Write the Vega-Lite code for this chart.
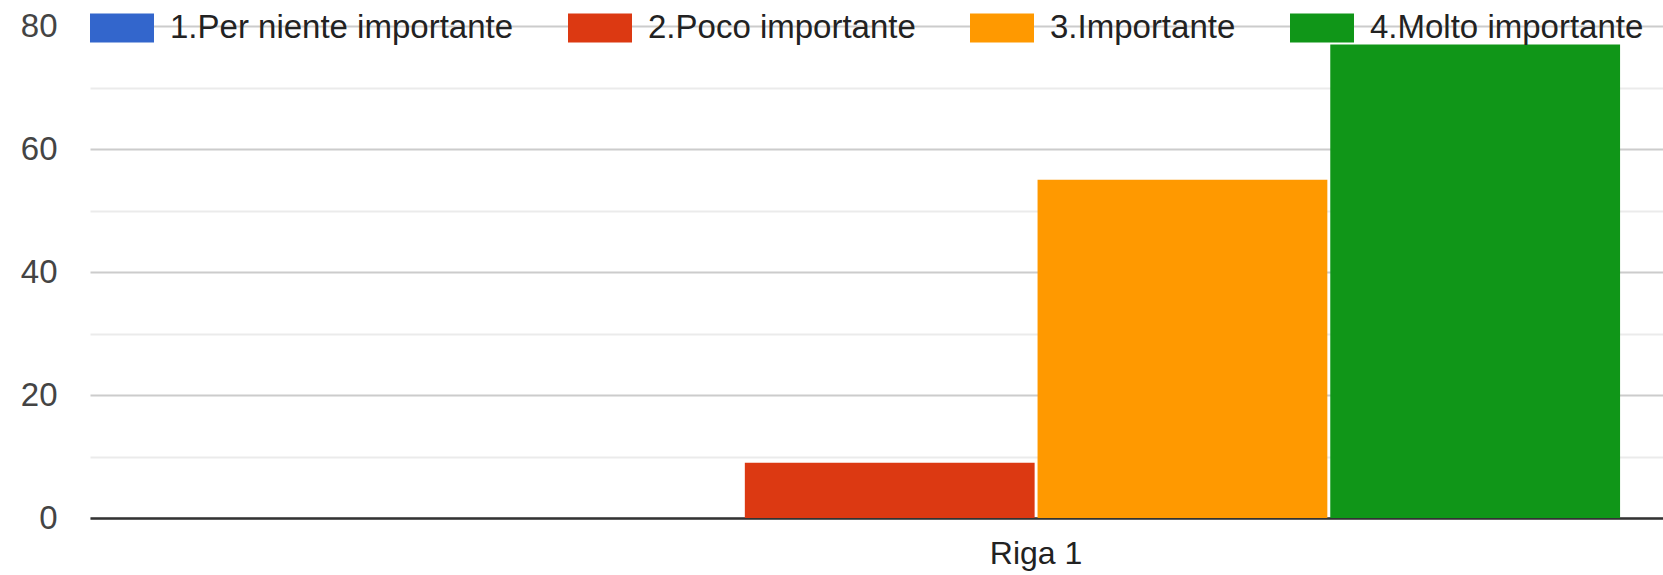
{
  "$schema": "https://vega.github.io/schema/vega-lite/v6.json",
  "width": 1573,
  "height": 492,
  "autosize": {"type": "none"},
  "padding": {"left": 90, "top": 26, "right": 0, "bottom": 57},
  "background": "white",
  "config": {
    "view": {"stroke": null},
    "font": "Liberation Sans"
  },
  "data": {
    "values": [
      {"riga": "Riga 1", "risposta": "1.Per niente importante", "conteggio": 0},
      {"riga": "Riga 1", "risposta": "2.Poco importante", "conteggio": 9},
      {"riga": "Riga 1", "risposta": "3.Importante", "conteggio": 55},
      {"riga": "Riga 1", "risposta": "4.Molto importante", "conteggio": 77}
    ]
  },
  "mark": {"type": "bar"},
  "encoding": {
    "x": {
      "field": "riga",
      "type": "nominal",
      "title": null,
      "scale": {"paddingInner": 0, "paddingOuter": 0.1734, "align": 0.894},
      "axis": {
        "labelAngle": 0,
        "labelFontSize": 32,
        "labelColor": "#222222",
        "labelPadding": 20,
        "ticks": false,
        "domain": true,
        "domainColor": "#333333",
        "domainWidth": 2.5
      }
    },
    "xOffset": {
      "field": "risposta",
      "type": "nominal",
      "scale": {"paddingInner": 0.01, "paddingOuter": 0}
    },
    "y": {
      "field": "conteggio",
      "type": "quantitative",
      "title": null,
      "scale": {"domain": [0, 80], "nice": false},
      "axis": {
        "values": [0, 10, 20, 30, 40, 50, 60, 70, 80],
        "labelExpr": "datum.value % 20 === 0 ? datum.label : ''",
        "labelFontSize": 33,
        "labelColor": "#444444",
        "labelPadding": 33,
        "ticks": false,
        "domain": false,
        "grid": true,
        "gridColor": {
          "condition": {"test": "datum.value % 20 === 0", "value": "#cccccc"},
          "value": "#ebebeb"
        },
        "gridWidth": 2
      }
    },
    "color": {
      "field": "risposta",
      "type": "nominal",
      "scale": {
        "domain": ["1.Per niente importante", "2.Poco importante", "3.Importante", "4.Molto importante"],
        "range": ["#3366cc", "#dc3912", "#ff9900", "#109618"]
      },
      "legend": {
        "title": null,
        "orient": "none",
        "direction": "horizontal",
        "legendX": 0,
        "legendY": -30,
        "symbolType": "M-1,-0.45H1V0.45H-1Z",
        "symbolSize": 4096,
        "symbolStrokeWidth": 0,
        "symbolOpacity": 1,
        "labelFontSize": 33,
        "labelColor": "#222222",
        "labelOffset": 16,
        "columnPadding": 54,
        "labelLimit": 500
      }
    }
  }
}
